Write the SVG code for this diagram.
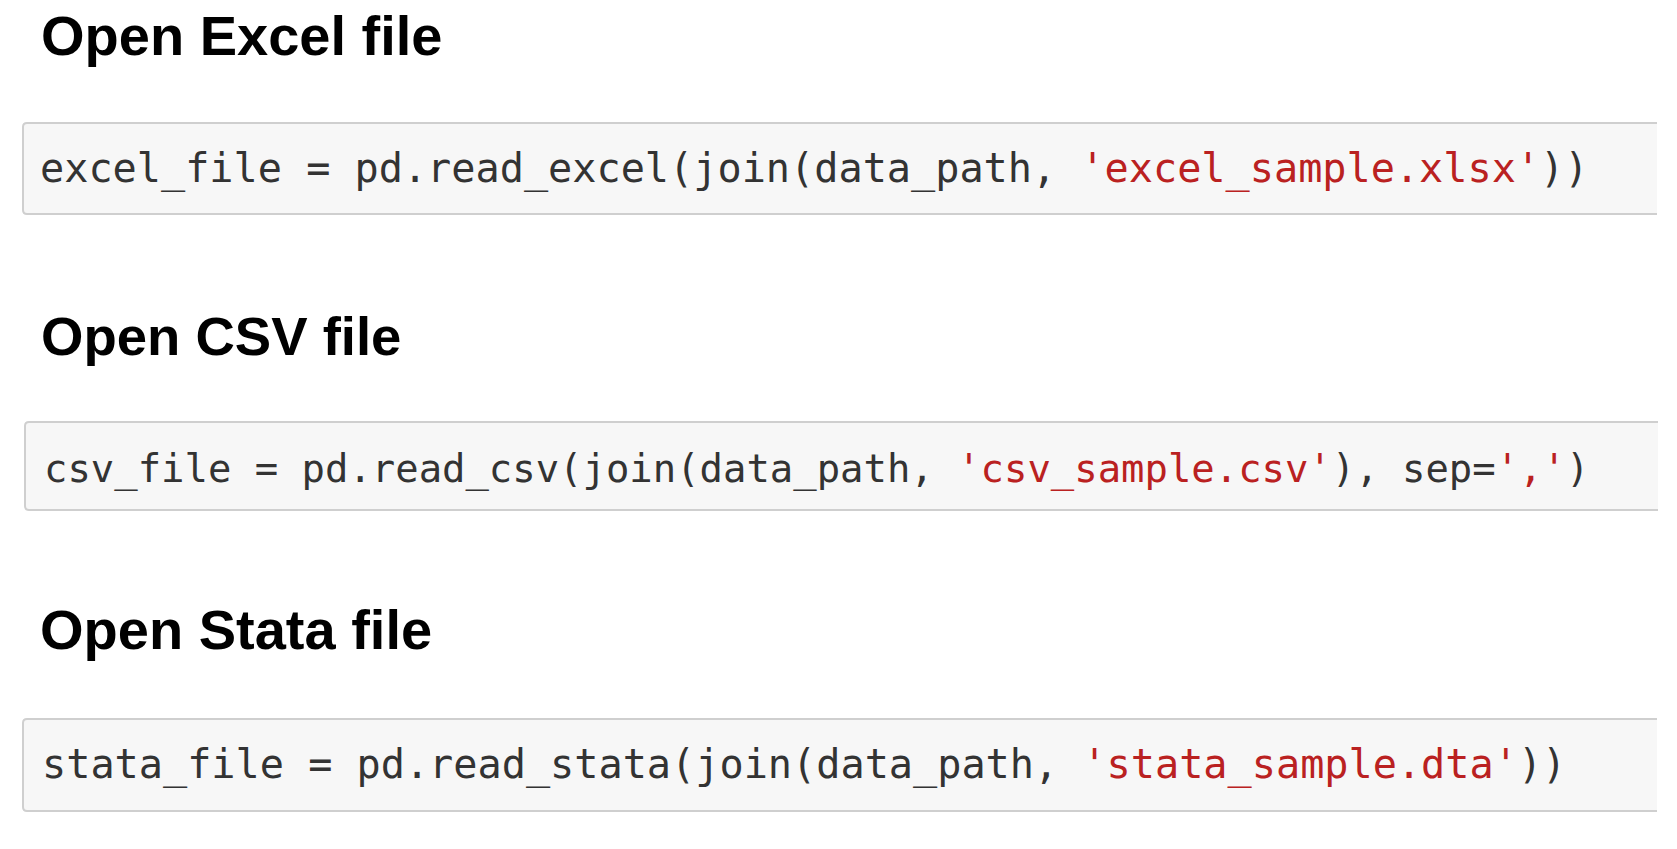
<svg xmlns="http://www.w3.org/2000/svg" width="1677" height="849" viewBox="0 0 1677 849">
<style>
.h{font-family:"Liberation Sans",Arial,sans-serif;font-weight:bold;font-size:56px;fill:#000}
.c{font-family:"DejaVu Sans Mono","Liberation Mono",monospace;font-size:40.2px;fill:#333}
.s{fill:#ba2121}
.bg{fill:#f7f7f7}
.bd{fill:none;stroke:#cfcfcf;stroke-width:2}
</style>
<rect width="1677" height="849" fill="#fff"/>
<g id="excel">
<text class="h" x="41" y="55">Open Excel file</text>
<path class="bg" d="M1657 123 H27 Q23 123 23 127 V210 Q23 214 27 214 H1657 Z"/>
<path class="bd" d="M1657 123 H27 Q23 123 23 127 V210 Q23 214 27 214 H1657"/>
<text class="c" x="40" y="182" xml:space="preserve">excel_file = pd.read_excel(join(data_path, <tspan class="s">'excel_sample.xlsx'</tspan>))</text>
</g>
<g id="csv">
<text class="h" x="41" y="355" style="font-size:54.5px">Open CSV file</text>
<path class="bg" d="M1658 422 H29 Q25 422 25 426 V506 Q25 510 29 510 H1658 Z"/>
<path class="bd" d="M1658 422 H29 Q25 422 25 426 V506 Q25 510 29 510 H1658"/>
<text class="c" x="44" y="482" style="font-size:38.9px" xml:space="preserve">csv_file = pd.read_csv(join(data_path, <tspan class="s">'csv_sample.csv'</tspan>), sep=<tspan class="s">','</tspan>)</text>
</g>
<g id="stata">
<text class="h" x="40" y="649">Open Stata file</text>
<path class="bg" d="M1657 719 H27 Q23 719 23 723 V807 Q23 811 27 811 H1657 Z"/>
<path class="bd" d="M1657 719 H27 Q23 719 23 723 V807 Q23 811 27 811 H1657"/>
<text class="c" x="42" y="778" xml:space="preserve">stata_file = pd.read_stata(join(data_path, <tspan class="s">'stata_sample.dta'</tspan>))</text>
</g>
<g id="connectors"/>
</svg>
